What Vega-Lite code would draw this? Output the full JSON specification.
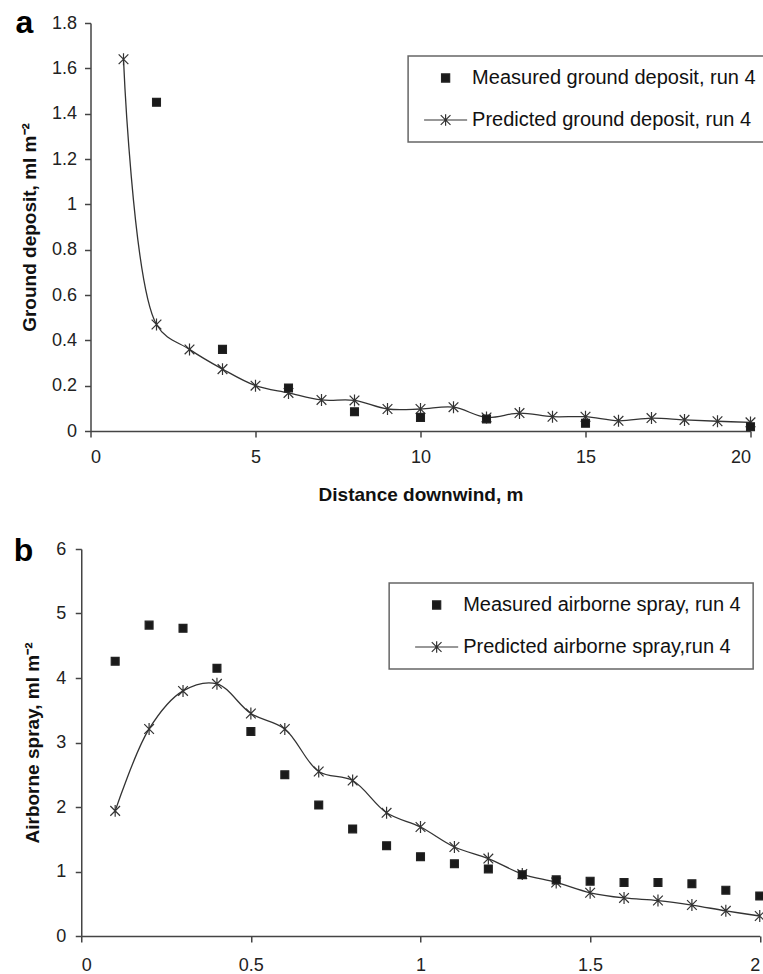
{
  "$schema": "https://vega.github.io/schema/vega-lite/v6.json",
  "background": "white",
  "padding": {"left": 13, "top": 7, "right": 0, "bottom": 0},
  "config": {
    "view": {"stroke": null},
    "font": "Liberation Sans",
    "axis": {
      "labelFont": "Liberation Sans", "labelFontSize": 18, "labelColor": "#222",
      "domainColor": "#444", "domainWidth": 1.5, "tickColor": "#444", "tickWidth": 1.5, "tickSize": 6,
      "grid": false, "labelPadding": 8,
      "titleFont": "Liberation Sans", "titleFontWeight": "bold", "titleFontSize": 19, "titleColor": "#111"
    },
    "legend": {
      "title": null, "labelFont": "Liberation Sans", "labelFontSize": 20, "labelColor": "#111", "labelLimit": 500,
      "padding": 12, "symbolOffset": 15.5, "labelOffset": 16.5, "rowPadding": 22, "symbolSize": 66,
      "strokeColor": "#666", "strokeWidth": 1.5, "symbolStrokeWidth": 1.2
    }
  },
  "datasets": {
    "groundMeasured": [
      {"distance": 2, "value": 1.45, "series": "Measured ground deposit, run 4"},
      {"distance": 4, "value": 0.36, "series": "Measured ground deposit, run 4"},
      {"distance": 6, "value": 0.19, "series": "Measured ground deposit, run 4"},
      {"distance": 8, "value": 0.085, "series": "Measured ground deposit, run 4"},
      {"distance": 10, "value": 0.06, "series": "Measured ground deposit, run 4"},
      {"distance": 12, "value": 0.053, "series": "Measured ground deposit, run 4"},
      {"distance": 15, "value": 0.034, "series": "Measured ground deposit, run 4"},
      {"distance": 20, "value": 0.019, "series": "Measured ground deposit, run 4"}
    ],
    "groundPredicted": [
      {"distance": 1, "value": 1.64, "series": "Predicted ground deposit, run 4"},
      {"distance": 2, "value": 0.47, "series": "Predicted ground deposit, run 4"},
      {"distance": 3, "value": 0.36, "series": "Predicted ground deposit, run 4"},
      {"distance": 4, "value": 0.273, "series": "Predicted ground deposit, run 4"},
      {"distance": 5, "value": 0.2, "series": "Predicted ground deposit, run 4"},
      {"distance": 6, "value": 0.168, "series": "Predicted ground deposit, run 4"},
      {"distance": 7, "value": 0.137, "series": "Predicted ground deposit, run 4"},
      {"distance": 8, "value": 0.135, "series": "Predicted ground deposit, run 4"},
      {"distance": 9, "value": 0.097, "series": "Predicted ground deposit, run 4"},
      {"distance": 10, "value": 0.097, "series": "Predicted ground deposit, run 4"},
      {"distance": 11, "value": 0.105, "series": "Predicted ground deposit, run 4"},
      {"distance": 12, "value": 0.06, "series": "Predicted ground deposit, run 4"},
      {"distance": 13, "value": 0.079, "series": "Predicted ground deposit, run 4"},
      {"distance": 14, "value": 0.063, "series": "Predicted ground deposit, run 4"},
      {"distance": 15, "value": 0.063, "series": "Predicted ground deposit, run 4"},
      {"distance": 16, "value": 0.045, "series": "Predicted ground deposit, run 4"},
      {"distance": 17, "value": 0.057, "series": "Predicted ground deposit, run 4"},
      {"distance": 18, "value": 0.049, "series": "Predicted ground deposit, run 4"},
      {"distance": 19, "value": 0.043, "series": "Predicted ground deposit, run 4"},
      {"distance": 20, "value": 0.038, "series": "Predicted ground deposit, run 4"}
    ],
    "airMeasured": [
      {"distance": 0.1, "value": 4.26, "series": "Measured airborne spray, run 4"},
      {"distance": 0.2, "value": 4.82, "series": "Measured airborne spray, run 4"},
      {"distance": 0.3, "value": 4.77, "series": "Measured airborne spray, run 4"},
      {"distance": 0.4, "value": 4.15, "series": "Measured airborne spray, run 4"},
      {"distance": 0.5, "value": 3.17, "series": "Measured airborne spray, run 4"},
      {"distance": 0.6, "value": 2.5, "series": "Measured airborne spray, run 4"},
      {"distance": 0.7, "value": 2.03, "series": "Measured airborne spray, run 4"},
      {"distance": 0.8, "value": 1.66, "series": "Measured airborne spray, run 4"},
      {"distance": 0.9, "value": 1.4, "series": "Measured airborne spray, run 4"},
      {"distance": 1.0, "value": 1.23, "series": "Measured airborne spray, run 4"},
      {"distance": 1.1, "value": 1.12, "series": "Measured airborne spray, run 4"},
      {"distance": 1.2, "value": 1.04, "series": "Measured airborne spray, run 4"},
      {"distance": 1.3, "value": 0.95, "series": "Measured airborne spray, run 4"},
      {"distance": 1.4, "value": 0.87, "series": "Measured airborne spray, run 4"},
      {"distance": 1.5, "value": 0.85, "series": "Measured airborne spray, run 4"},
      {"distance": 1.6, "value": 0.83, "series": "Measured airborne spray, run 4"},
      {"distance": 1.7, "value": 0.83, "series": "Measured airborne spray, run 4"},
      {"distance": 1.8, "value": 0.81, "series": "Measured airborne spray, run 4"},
      {"distance": 1.9, "value": 0.71, "series": "Measured airborne spray, run 4"},
      {"distance": 2.0, "value": 0.62, "series": "Measured airborne spray, run 4"}
    ],
    "airPredicted": [
      {"distance": 0.1, "value": 1.94, "series": "Predicted airborne spray,run 4"},
      {"distance": 0.2, "value": 3.21, "series": "Predicted airborne spray,run 4"},
      {"distance": 0.3, "value": 3.8, "series": "Predicted airborne spray,run 4"},
      {"distance": 0.4, "value": 3.91, "series": "Predicted airborne spray,run 4"},
      {"distance": 0.5, "value": 3.45, "series": "Predicted airborne spray,run 4"},
      {"distance": 0.6, "value": 3.21, "series": "Predicted airborne spray,run 4"},
      {"distance": 0.7, "value": 2.55, "series": "Predicted airborne spray,run 4"},
      {"distance": 0.8, "value": 2.41, "series": "Predicted airborne spray,run 4"},
      {"distance": 0.9, "value": 1.91, "series": "Predicted airborne spray,run 4"},
      {"distance": 1.0, "value": 1.69, "series": "Predicted airborne spray,run 4"},
      {"distance": 1.1, "value": 1.38, "series": "Predicted airborne spray,run 4"},
      {"distance": 1.2, "value": 1.2, "series": "Predicted airborne spray,run 4"},
      {"distance": 1.3, "value": 0.96, "series": "Predicted airborne spray,run 4"},
      {"distance": 1.4, "value": 0.83, "series": "Predicted airborne spray,run 4"},
      {"distance": 1.5, "value": 0.67, "series": "Predicted airborne spray,run 4"},
      {"distance": 1.6, "value": 0.59, "series": "Predicted airborne spray,run 4"},
      {"distance": 1.7, "value": 0.55, "series": "Predicted airborne spray,run 4"},
      {"distance": 1.8, "value": 0.48, "series": "Predicted airborne spray,run 4"},
      {"distance": 1.9, "value": 0.39, "series": "Predicted airborne spray,run 4"},
      {"distance": 2.0, "value": 0.31, "series": "Predicted airborne spray,run 4"}
    ]
  },
  "spacing": 118,
  "bounds": "flush",
  "center": true,
  "resolve": {"scale": {"shape": "independent", "color": "independent"}, "legend": {"shape": "independent", "color": "independent"}},
  "vconcat": [
    {
      "width": 660,
      "height": 408,
      "title": {"text": "a", "anchor": "start", "frame": "bounds", "fontSize": 32, "fontWeight": "bold", "font": "Liberation Sans", "color": "#000", "baseline": "alphabetic", "offset": -18, "dx": -5, "dy": 33},
      "layer": [
        {
          "data": {"name": "groundPredicted"},
          "mark": {"type": "line", "interpolate": "catmull-rom", "color": "#333", "strokeWidth": 1.3},
          "encoding": {
            "x": {"field": "distance", "type": "quantitative", "scale": {"domain": [0, 20], "nice": false},
                  "axis": {"values": [0, 5, 10, 15, 20], "title": "Distance downwind, m", "labelPadding": 11, "titlePadding": 19, "format": "~g"}},
            "y": {"field": "value", "type": "quantitative", "scale": {"domain": [0, 1.8], "nice": false},
                  "axis": {"values": [0, 0.2, 0.4, 0.6, 0.8, 1, 1.2, 1.4, 1.6, 1.8], "title": "Ground deposit, ml m⁻²", "titlePadding": 12, "format": "~g"}}
          }
        },
        {
          "data": {"name": "groundPredicted"},
          "mark": {"type": "point", "shape": "M-0.85,-0.85L0.85,0.85M-0.85,0.85L0.85,-0.85M0,-1.05L0,1.05", "size": 130, "filled": false, "color": "#333", "strokeWidth": 1.2, "opacity": 1},
          "encoding": {
            "x": {"field": "distance", "type": "quantitative"},
            "y": {"field": "value", "type": "quantitative"}
          }
        },
        {
          "data": {"name": "groundMeasured"},
          "mark": {"type": "point", "filled": false, "fill": "#1a1a1a", "strokeWidth": 1.2, "size": 62, "opacity": 1},
          "encoding": {
            "x": {"field": "distance", "type": "quantitative"},
            "y": {"field": "value", "type": "quantitative"},
            "color": {"field": "series", "type": "nominal",
                      "scale": {"domain": ["Measured ground deposit, run 4", "Predicted ground deposit, run 4"], "range": ["#222222", "#333333"]},
                      "legend": {"orient": "none", "legendX": 317.6, "legendY": 33, "symbolStrokeWidth": 1.2}},
            "shape": {"field": "series", "type": "nominal",
                      "scale": {"domain": ["Measured ground deposit, run 4", "Predicted ground deposit, run 4"],
                                "range": ["square", "M-5.3,0L5.3,0M-1.2,-1.2L1.2,1.2M-1.2,1.2L1.2,-1.2M0,-1.4L0,1.4"]},
                      "legend": {"orient": "none", "legendX": 317.6, "legendY": 33, "symbolStrokeWidth": 1.2}}
          }
        }
      ]
    },
    {
      "width": 678.5,
      "height": 387,
      "title": {"text": "b", "anchor": "start", "frame": "bounds", "fontSize": 32, "fontWeight": "bold", "font": "Liberation Sans", "color": "#000", "baseline": "alphabetic", "offset": -18, "dx": -10, "dy": 35},
      "layer": [
        {
          "data": {"name": "airPredicted"},
          "mark": {"type": "line", "interpolate": "catmull-rom", "color": "#333", "strokeWidth": 1.3},
          "encoding": {
            "x": {"field": "distance", "type": "quantitative", "scale": {"domain": [0, 2], "nice": false},
                  "axis": {"values": [0, 0.5, 1, 1.5, 2], "title": null, "format": "~g", "labelPadding": 14}},
            "y": {"field": "value", "type": "quantitative", "scale": {"domain": [0, 6], "nice": false},
                  "axis": {"values": [0, 1, 2, 3, 4, 5, 6], "title": "Airborne spray, ml m⁻²", "labelPadding": 9.5, "titlePadding": 13, "format": "~g"}}
          }
        },
        {
          "data": {"name": "airPredicted"},
          "mark": {"type": "point", "shape": "M-0.85,-0.85L0.85,0.85M-0.85,0.85L0.85,-0.85M0,-1.05L0,1.05", "size": 130, "filled": false, "color": "#333", "strokeWidth": 1.2, "opacity": 1},
          "encoding": {
            "x": {"field": "distance", "type": "quantitative"},
            "y": {"field": "value", "type": "quantitative"}
          }
        },
        {
          "data": {"name": "airMeasured"},
          "mark": {"type": "point", "filled": false, "fill": "#1a1a1a", "strokeWidth": 1.2, "size": 62, "opacity": 1},
          "encoding": {
            "x": {"field": "distance", "type": "quantitative"},
            "y": {"field": "value", "type": "quantitative"},
            "color": {"field": "series", "type": "nominal",
                      "scale": {"domain": ["Measured airborne spray, run 4", "Predicted airborne spray,run 4"], "range": ["#222222", "#333333"]},
                      "legend": {"orient": "none", "legendX": 307.9, "legendY": 34, "symbolOffset": 25.5, "symbolStrokeWidth": 1.2}},
            "shape": {"field": "series", "type": "nominal",
                      "scale": {"domain": ["Measured airborne spray, run 4", "Predicted airborne spray,run 4"],
                                "range": ["square", "M-5.3,0L5.3,0M-1.2,-1.2L1.2,1.2M-1.2,1.2L1.2,-1.2M0,-1.4L0,1.4"]},
                      "legend": {"orient": "none", "legendX": 307.9, "legendY": 34, "symbolOffset": 25.5, "symbolStrokeWidth": 1.2}}
          }
        }
      ]
    }
  ]
}
